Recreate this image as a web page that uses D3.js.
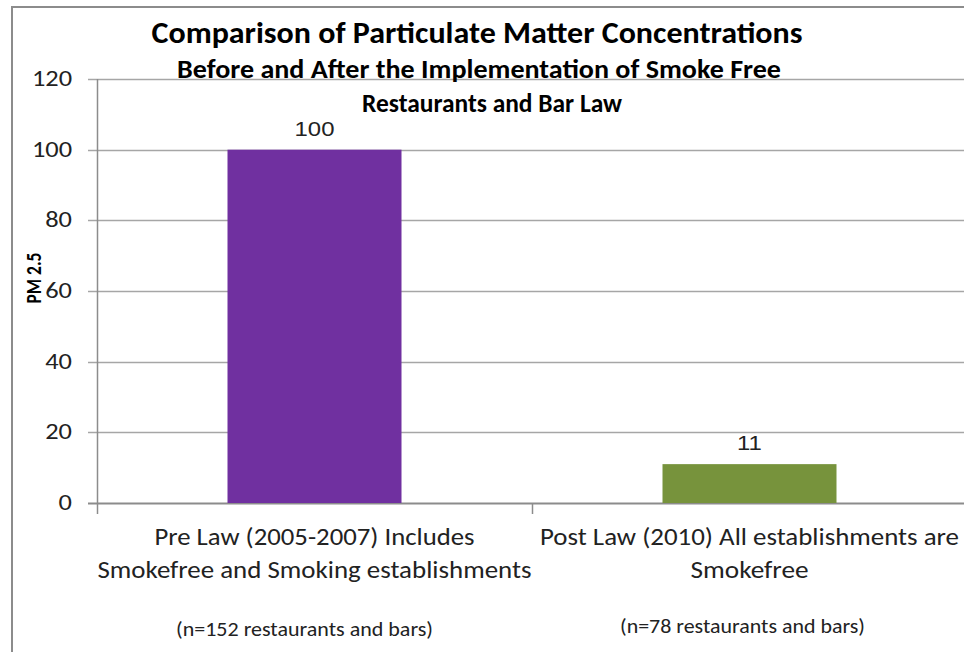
<!DOCTYPE html>
<html>
<head>
<meta charset="utf-8">
<script src="https://cdn.jsdelivr.net/npm/d3@7"></script>
<style>
  body { margin: 0; background: #fff; }
  svg { display: block; }
</style>
</head>
<body>
<div id="chart"></div>
<script>
var categories = ['pre', 'post'];
var categoryLines = [
    ['Pre Law (2005-2007) Includes', 'Smokefree and Smoking establishments'],
    ['Post Law (2010) All establishments are', 'Smokefree']
];
var sampleNotes = ['(n=152 restaurants and bars)', '(n=78 restaurants and bars)'];
var values = [100, 11];
var barColors = ['#7030A0', '#77933C'];
var yTicks = [0, 20, 40, 60, 80, 100, 120];
var titleLines = [
    'Comparison of Particulate Matter Concentrations',
    'Before and After the Implementation of Smoke Free',
    'Restaurants and Bar Law'
];

var font = 'Carlito, Calibri, "Liberation Sans Narrow", "Open Sans", sans-serif';

var svg = d3.select('#chart')
    .append('svg')
    .attr('width', 964)
    .attr('height', 652);

//Helper: centred text stretched to a given width (the reference text is wide)
function addText(x, y, str, size, weight, width, anchor){
    var t = svg.append('text')
        .attr('x', x)
        .attr('y', y)
        .attr('text-anchor', anchor || 'middle')
        .style('font-family', font)
        .style('font-size', size + 'px')
        .style('font-weight', weight)
        .style('fill', weight === 700 ? '#000' : '#222')
        .text(str);
    if (width) {
        t.attr('textLength', width).attr('lengthAdjust', 'spacingAndGlyphs');
    }
    return t;
}

//Frame of the chart area
svg.append('path')
    .attr('d', 'M12,652 V7 H964')
    .style('fill', 'none')
    .style('stroke', '#8c8c8c')
    .style('stroke-width', 2);

var plotLeft = 97, plotRight = 967, plotTop = 79, plotBottom = 503;

var x = d3.scaleBand()
    .domain(categories)
    .range([plotLeft, plotRight])
    .paddingInner(0.6)
    .paddingOuter(0.3);

var y = d3.scaleLinear()
    .domain([0, 120])
    .range([plotBottom, plotTop]);

//Gridlines
svg.selectAll('.grid')
    .data(yTicks)
    .enter()
    .append('line')
    .attr('x1', plotLeft - 9)
    .attr('x2', 964)
    .attr('y1', function(d){ return Math.round(y(d)) + 0.5; })
    .attr('y2', function(d){ return Math.round(y(d)) + 0.5; })
    .style('stroke', function(d){ return d === 0 ? '#8c8c8c' : '#a6a6a6'; })
    .style('stroke-width', function(d){ return d === 0 ? 2 : 1.5; });

//Y axis line
svg.append('line')
    .attr('x1', plotLeft + 0.5)
    .attr('x2', plotLeft + 0.5)
    .attr('y1', plotTop)
    .attr('y2', plotBottom)
    .style('stroke', '#8c8c8c')
    .style('stroke-width', 1.5);

//Y tick labels
svg.selectAll('.ytick')
    .data(yTicks)
    .enter()
    .append('text')
    .attr('transform', function(d){ return 'translate(72,' + (y(d) + 7) + ') scale(1.2,1)'; })
    .attr('text-anchor', 'end')
    .style('font-family', font)
    .style('font-size', '22px')
    .style('fill', '#222')
    .text(function(d){ return d; });

//Category ticks between bands
var step = x.step();
svg.selectAll('.xtick')
    .data([plotLeft, plotLeft + step])
    .enter()
    .append('line')
    .attr('x1', function(d){ return d + 0.5; })
    .attr('x2', function(d){ return d + 0.5; })
    .attr('y1', plotBottom)
    .attr('y2', plotBottom + 11)
    .style('stroke', '#8c8c8c')
    .style('stroke-width', 1.5);

//Bars
svg.selectAll('.bar')
    .data(values)
    .enter()
    .append('rect')
    .attr('x', function(d, i){ return x(categories[i]); })
    .attr('width', x.bandwidth())
    .attr('y', function(d){ return y(d); })
    .attr('height', function(d){ return plotBottom - y(d); })
    .style('fill', function(d, i){ return barColors[i]; });

//Data labels
svg.selectAll('.dlabel')
    .data(values)
    .enter()
    .append('text')
    .attr('transform', function(d, i){
        return 'translate(' + (x(categories[i]) + x.bandwidth() / 2) + ',' + (y(d) - 14) + ') scale(1.14,1)';
    })
    .attr('text-anchor', 'middle')
    .style('font-family', '"Liberation Sans", Arial, sans-serif')
    .style('font-size', '21px')
    .style('fill', '#222')
    .text(function(d){ return d; });

//Category labels
var lineWidths = [[320, 434], [419, 118]];
var noteWidths = [257, 245];
var noteShift = [-10, -7];
categoryLines.forEach(function(lines, i){
    var cx = x(categories[i]) + x.bandwidth() / 2;
    lines.forEach(function(line, j){
        addText(cx, 545 + j * 33, line, 24, 400, lineWidths[i][j]);
    });
    addText(cx + noteShift[i], 636 - i * 3, sampleNotes[i], 20, 400, noteWidths[i]);
});

//Y axis title
svg.append('text')
    .attr('transform', 'translate(41,278) rotate(-90)')
    .attr('text-anchor', 'middle')
    .attr('textLength', 51)
    .attr('lengthAdjust', 'spacingAndGlyphs')
    .style('font-family', font)
    .style('font-size', '22px')
    .style('font-weight', 700)
    .style('fill', '#000')
    .text('PM 2.5');

//Chart title
addText(477, 43, titleLines[0], 31, 700, 651);
addText(479, 78, titleLines[1], 26, 700, 604);
addText(492, 112, titleLines[2], 26, 700, 260);
</script>
</body>
</html>
